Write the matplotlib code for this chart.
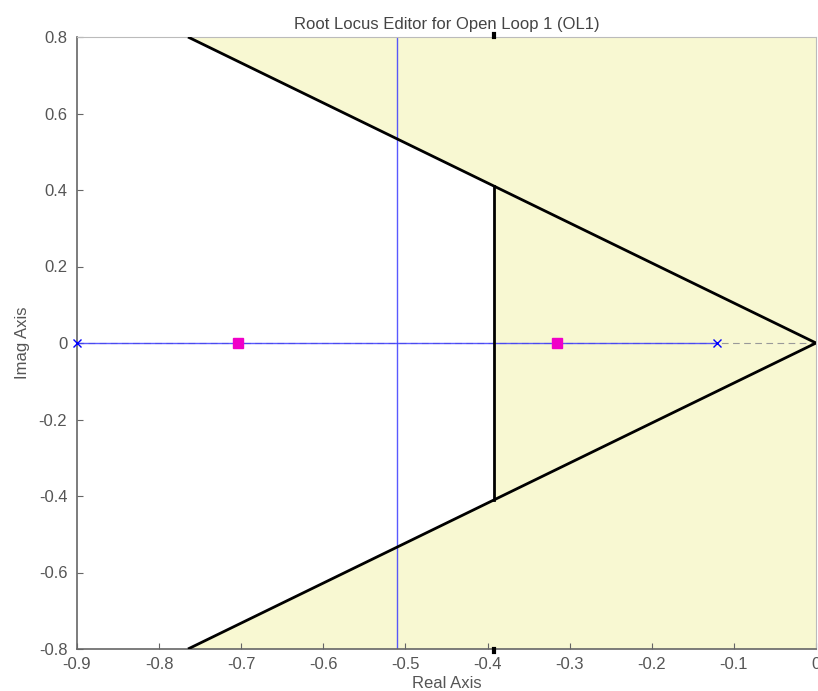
import matplotlib
matplotlib.use("Agg")
import matplotlib.pyplot as plt
import numpy as np
from matplotlib.patches import Polygon

plt.rcParams['font.family'] = ['Liberation Sans', 'DejaVu Sans']

# Data
open_loop_poles = [-0.9, -0.12]
closed_loop_poles = [-0.704, -0.315]
breakaway = -0.51
settling_x = -0.392
cone_slope = 1.046  # |imag| / |real| of damping constraint
xlim = (-0.9, 0.0)
ylim = (-0.8, 0.8)
xticks = [-0.9, -0.8, -0.7, -0.6, -0.5, -0.4, -0.3, -0.2, -0.1, 0]
xticklabels = ['-0.9', '-0.8', '-0.7', '-0.6', '-0.5', '-0.4', '-0.3', '-0.2', '-0.1', '0']
yticks = [-0.8, -0.6, -0.4, -0.2, 0, 0.2, 0.4, 0.6, 0.8]
yticklabels = ['-0.8', '-0.6', '-0.4', '-0.2', '0', '0.2', '0.4', '0.6', '0.8']

yellow = '#F8F8D2'
gray_txt = '#555555'

fig = plt.figure(figsize=(8.18, 6.91), dpi=100)
ax = fig.add_axes([77/818, 1-649/691, (816-77)/818, (649-37)/691])
ax.set_xlim(*xlim)
ax.set_ylim(*ylim)
ax.set_facecolor('white')

# Yellow forbidden regions
ax.add_patch(Polygon([(settling_x, ylim[0]), (xlim[1], ylim[0]), (xlim[1], ylim[1]), (settling_x, ylim[1])],
                     closed=True, facecolor=yellow, edgecolor='none', zorder=0))
xt = -ylim[1] / cone_slope
ax.add_patch(Polygon([(xt, ylim[1]), (settling_x, ylim[1]), (settling_x, -settling_x * cone_slope)],
                     closed=True, facecolor=yellow, edgecolor='none', zorder=0))
ax.add_patch(Polygon([(xt, ylim[0]), (settling_x, ylim[0]), (settling_x, settling_x * cone_slope)],
                     closed=True, facecolor=yellow, edgecolor='none', zorder=0))

# Constraint boundaries
ax.plot([xt, 0], [ylim[1], 0], color='black', lw=2.0, zorder=3, solid_capstyle='butt')
ax.plot([xt, 0], [ylim[0], 0], color='black', lw=2.0, zorder=3, solid_capstyle='butt')
ax.plot([settling_x, settling_x], [settling_x * cone_slope, -settling_x * cone_slope],
        color='black', lw=2.0, zorder=3)
# small marks at top/bottom of settling line
ax.plot([settling_x, settling_x], [ylim[1], ylim[1] + 0.008], color='black', lw=3, clip_on=False, zorder=5)
ax.plot([settling_x, settling_x], [ylim[0], ylim[0] - 0.008], color='black', lw=3, clip_on=False, zorder=5)

# Real axis dashed
ax.axhline(0, color='#999999', lw=0.8, ls=(0, (6, 4)), zorder=1)

# Root locus branches
ax.plot(open_loop_poles, [0, 0], color='#3C3CFF', lw=1.0, alpha=0.85, zorder=2)
ax.plot([breakaway, breakaway], list(ylim), color='#3C3CFF', lw=1.0, alpha=0.85, zorder=2)
ax.plot(open_loop_poles, [0, 0], ls='none', marker='x', color='#0000FF', ms=5.5, mew=1.0, zorder=4, clip_on=False)
ax.plot(closed_loop_poles, [0, 0], ls='none', marker='s', color='#F000C8', ms=7, mec='#F000C8', zorder=4)

ax.set_xticks(xticks)
ax.set_xticklabels(xticklabels)
ax.set_yticks(yticks)
ax.set_yticklabels(yticklabels)
ax.tick_params(direction='in', length=4, width=0.8, colors='#666666', labelcolor=gray_txt, labelsize=12)
ax.tick_params(axis='x', pad=6)
ax.tick_params(axis='y', pad=7)
for s in ['left', 'bottom']:
    ax.spines[s].set_color('#666666')
    ax.spines[s].set_linewidth(1.2)
for s in ['top', 'right']:
    ax.spines[s].set_color('#BBBBBB')
    ax.spines[s].set_linewidth(0.8)

ax.set_title('Root Locus Editor for Open Loop 1 (OL1)', fontsize=12, color='#444444', pad=6)
ax.set_xlabel('Real Axis', fontsize=12, color=gray_txt, labelpad=3)
ax.set_ylabel('Imag Axis', fontsize=12, color=gray_txt, labelpad=6)

fig.savefig('out.png', dpi=100)
